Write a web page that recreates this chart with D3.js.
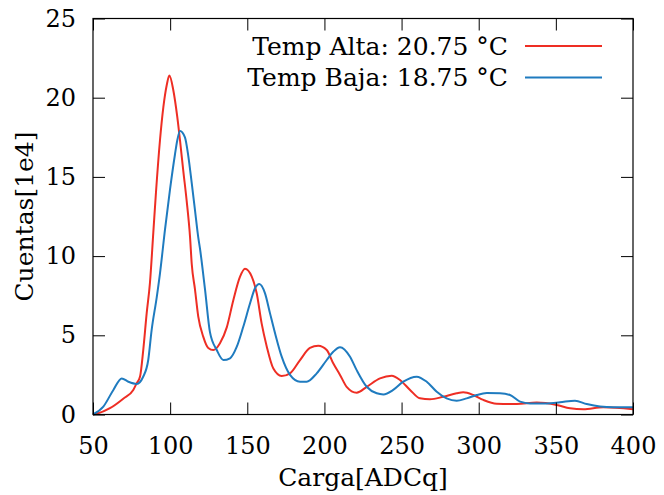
<!DOCTYPE html>
<html>
<head>
<meta charset="utf-8">
<script src="https://cdn.jsdelivr.net/npm/d3@7"></script>
<style>
  body { margin: 0; background: #fff; }
  text { font-family: "DejaVu Serif", serif; fill: #000; }
</style>
</head>
<body>
<div id="chart"></div>
<script>
// Temp Alta (red) histogram
const altaX = [50, 52.4, 61, 69.6, 76.1, 78.3, 80.5, 82.6, 84.8, 86.9, 89.1, 90.8, 93.4, 95.6, 97.8, 99.5,
  102, 104.6, 106.4, 108.5, 110.7, 112.9, 114, 116.1, 118.2, 121.5, 124.7, 128, 132.3, 136.7, 140.9,
  145.3, 148.5, 152.9, 156.1, 159.3, 162.6, 166.9, 172.3, 177.7, 184.2, 190.6, 196, 201.5, 205.7,
  210.1, 214.4, 220.9, 227.4, 236, 243.6, 249, 255.5, 261.9, 268.4, 277, 285.7, 290, 296.5, 303,
  311.6, 324.6, 337.6, 350.5, 359.2, 367.8, 380.7, 400];
const altaY = [0, 0.05, 0.4, 1.0, 1.55, 1.97, 2.4, 4.1, 6.4, 8.3, 11.5, 14.0, 17.3, 19.4, 20.8, 21.4,
  20.5, 18.8, 17.3, 15.4, 13.5, 11.2, 9.5, 7.9, 6.2, 4.9, 4.2, 4.07, 4.5, 5.5, 7.2,
  8.7, 9.2, 8.7, 7.65, 5.75, 4.3, 2.9, 2.43, 2.6, 3.44, 4.2, 4.34, 4.07, 3.23,
  2.5, 1.75, 1.38, 1.75, 2.28, 2.45, 2.18, 1.55, 1.02, 0.96, 1.12, 1.34, 1.4, 1.23, 0.92,
  0.68, 0.66, 0.75, 0.6, 0.39, 0.33, 0.45, 0.33];

// Temp Baja (blue)
const bajaX = [50, 56.7, 63.2, 68.6, 72.9, 78.3, 82.6, 85.8, 88, 91.3, 93.4, 96.7, 99.9, 103.1,
  104.6, 106.4, 109.6, 111.8, 114, 116.1, 118.2, 119.3, 122.6, 125.8, 130.2, 134.5, 138.8, 143.2,
  147.4, 151.8, 155, 157.8, 161.5, 164.7, 168, 172.3, 177.7, 184.2, 188.5, 195, 201.5, 205.7, 210.1,
  216.6, 220.9, 227.4, 233.9, 238.2, 244.6, 251.1, 259.8, 266.3, 272.8, 279.2, 285.7, 292.2, 298.7,
  305.2, 313.8, 320.3, 326.8, 333.2, 344.1, 352.7, 362.4, 370, 378.6, 387.3, 400];
const bajaY = [0, 0.5, 1.55, 2.28, 2.07, 1.93, 2.4, 3.44, 5.33, 7.4, 8.9, 11.7, 14.2, 16.4,
  17.3, 17.9, 17.5, 16.3, 14.6, 12.9, 11.2, 10.5, 7.9, 5.2, 4.07, 3.44, 3.55, 4.28,
  5.54, 7.02, 7.97, 8.24, 7.65, 6.4, 5.13, 3.65, 2.5, 2.07, 2.07, 2.6, 3.44, 3.96, 4.25,
  3.65, 2.8, 1.75, 1.34, 1.27, 1.55, 2.07, 2.39, 2.07, 1.44, 1.02, 0.87, 1.02, 1.23,
  1.35, 1.34, 1.23, 0.81, 0.7, 0.7, 0.77, 0.87, 0.66, 0.5, 0.45, 0.45];

const xTicks = [50, 100, 150, 200, 250, 300, 350, 400];
const yTicks = [0, 5, 10, 15, 20, 25];
const seriesNames = ["Temp Alta: 20.75 °C", "Temp Baja: 18.75 °C"];

const margin = { top: 18.5, right: 31, bottom: 80.5, left: 93 },
  width = 664 - margin.left - margin.right,
  height = 495 - margin.top - margin.bottom,
  tickLen = 12,
  tickFont = "24px",
  labelFont = "25px",
  colorA = "#ee2e24",
  colorB = "#1f7bbf";

const svg = d3
  .select("#chart")
  .append("svg")
  .attr("width", 664)
  .attr("height", 495)
  .append("g")
  .attr("transform", "translate(" + margin.left + "," + margin.top + ")");

const x = d3.scaleLinear().domain([50, 400]).range([0, width]);
const y = d3.scaleLinear().domain([0, 25]).range([height, 0]);

// curves
const line = d3
  .line()
  .x(d => x(d[0]))
  .y(d => y(d[1]))
  .curve(d3.curveMonotoneX);

const series = [
  { name: seriesNames[0], color: colorA, pts: d3.zip(altaX, altaY) },
  { name: seriesNames[1], color: colorB, pts: d3.zip(bajaX, bajaY) }
];

svg
  .selectAll(".curve")
  .data(series)
  .enter()
  .append("path")
  .attr("class", "curve")
  .attr("d", d => line(d.pts))
  .attr("fill", "none")
  .attr("stroke", d => d.color)
  .attr("stroke-width", 2)
  .attr("stroke-linejoin", "round");

// axes: inward ticks, mirrored
const styleAxis = g => {
  g.select(".domain").remove();
  g.selectAll(".tick line").attr("stroke", "#000").attr("stroke-width", 1);
  g.selectAll(".tick text").style("font-size", tickFont).style("font-family", "DejaVu Serif");
};

svg
  .append("g")
  .attr("transform", "translate(0," + height + ")")
  .call(d3.axisBottom(x).tickValues(xTicks).tickSizeInner(-tickLen).tickSizeOuter(0).tickPadding(22))
  .call(styleAxis);

svg
  .append("g")
  .call(d3.axisTop(x).tickValues(xTicks).tickSizeInner(-tickLen).tickSizeOuter(0).tickFormat(""))
  .call(styleAxis);

svg
  .append("g")
  .call(d3.axisLeft(y).tickValues(yTicks).tickSizeInner(-tickLen).tickSizeOuter(0).tickPadding(17))
  .call(styleAxis);

svg
  .append("g")
  .attr("transform", "translate(" + width + ",0)")
  .call(d3.axisRight(y).tickValues(yTicks).tickSizeInner(-tickLen).tickSizeOuter(0).tickFormat(""))
  .call(styleAxis);

svg
  .append("rect")
  .attr("width", width)
  .attr("height", height)
  .attr("fill", "none")
  .attr("stroke", "#000")
  .attr("stroke-width", 1.2);

// axis titles
svg
  .append("text")
  .attr("x", width / 2)
  .attr("y", height + 71)
  .attr("text-anchor", "middle")
  .style("font-size", labelFont)
  .text("Carga[ADCq]");

svg
  .append("text")
  .attr("transform", "translate(" + (33 - margin.left) + "," + height / 2 + ") rotate(-90)")
  .attr("text-anchor", "middle")
  .style("font-size", labelFont)
  .text("Cuentas[1e4]");

// legend
const legend = svg
  .selectAll(".legend")
  .data(series)
  .enter()
  .append("g")
  .attr("class", "legend")
  .attr("transform", (d, i) => "translate(0," + (27.5 + i * 31.5) + ")");

legend
  .append("text")
  .attr("x", 508 - margin.left)
  .attr("y", 0)
  .attr("dy", "0.35em")
  .attr("text-anchor", "end")
  .style("font-size", labelFont)
  .text(d => d.name);

legend
  .append("line")
  .attr("x1", 525 - margin.left)
  .attr("x2", 602 - margin.left)
  .attr("stroke", d => d.color)
  .attr("stroke-width", 2);
</script>
</body>
</html>
